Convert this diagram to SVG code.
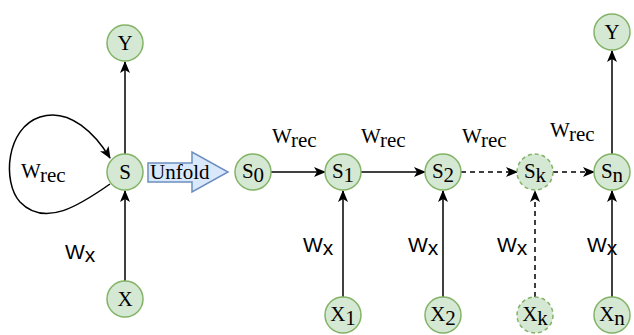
<svg xmlns="http://www.w3.org/2000/svg" width="634" height="335" viewBox="0 0 634 335">
<defs>
<marker id="arr" viewBox="0 0 12 10" markerWidth="12" markerHeight="10" refX="11" refY="5" orient="auto" markerUnits="userSpaceOnUse">
<path d="M0,0 L12,5 L0,10 L3,5 Z" fill="#000"/>
</marker>
</defs>
<style>
.n{fill:#d5e8d4;stroke:#82b366;stroke-width:1.5}
.nd{fill:#d5e8d4;stroke:#82b366;stroke-width:1.5;stroke-dasharray:4 3}
.t{font-family:"Liberation Serif","Times New Roman","DejaVu Serif",serif;font-size:21px;fill:#000;text-anchor:middle}
.l{font-family:"Liberation Serif","Times New Roman","DejaVu Serif",serif;font-size:21px;fill:#000}
.s{font-family:"Liberation Sans",Arial,sans-serif;font-size:21px;fill:#000}
.e{stroke:#000;stroke-width:1.5;fill:none;marker-end:url(#arr)}
.ed{stroke:#000;stroke-width:1.5;fill:none;stroke-dasharray:5 4;marker-end:url(#arr)}
</style>
<g id="connectors">
<path class="e" d="M110 184 C80 205 45 228 20 202 C2 182 6 128 40 117 C70 107 96 135 110 158"/>
<line class="e" x1="125" y1="154" x2="125" y2="62"/>
<line class="e" x1="125" y1="281" x2="125" y2="191"/>
<line class="e" x1="271" y1="172" x2="325" y2="172"/>
<line class="e" x1="361" y1="172" x2="425" y2="172"/>
<line class="ed" x1="461" y1="172" x2="517" y2="172"/>
<line class="ed" x1="553" y1="172" x2="594" y2="172"/>
<line class="e" x1="343" y1="297" x2="343" y2="191"/>
<line class="e" x1="443" y1="297" x2="443" y2="191"/>
<line class="ed" x1="535" y1="297" x2="535" y2="191"/>
<line class="e" x1="612" y1="297" x2="612" y2="191"/>
<line class="e" x1="612" y1="154" x2="612" y2="51"/>
</g>
<g id="labels">
<text class="l" x="21" y="178">W<tspan dy="4">rec</tspan></text>
<text class="s" x="65" y="259">W<tspan dy="3">x</tspan></text>
<text class="l" x="272" y="143">W<tspan dy="4">rec</tspan></text>
<text class="l" x="361" y="143">W<tspan dy="4">rec</tspan></text>
<text class="l" x="462" y="143">W<tspan dy="4">rec</tspan></text>
<text class="l" x="550" y="137">W<tspan dy="4">rec</tspan></text>
<text class="s" x="303" y="252">W<tspan dy="3">x</tspan></text>
<text class="s" x="408" y="252">W<tspan dy="3">x</tspan></text>
<text class="s" x="497" y="252">W<tspan dy="3">x</tspan></text>
<text class="s" x="587" y="252">W<tspan dy="3">x</tspan></text>
</g>
<g id="unfold">
<path d="M148 163 L192 163 L192 152 L228 172 L192 192 L192 182 L148 182 Z" fill="#dae8fc" stroke="#6c8ebf" stroke-width="1.5"/>
<text class="l" x="150" y="179">Unfold</text>
</g>
<g id="Y"><circle class="n" cx="125" cy="43" r="18"/><text class="t" x="125" y="50">Y</text></g>
<g id="S"><circle class="n" cx="125" cy="172" r="18"/><text class="t" x="125" y="179">S</text></g>
<g id="X"><circle class="n" cx="125" cy="299" r="18"/><text class="t" x="125" y="306">X</text></g>
<g id="S0"><circle class="n" cx="253" cy="172" r="18"/><text class="t" x="253" y="178">S<tspan dy="4">0</tspan></text></g>
<g id="S1"><circle class="n" cx="343" cy="172" r="18"/><text class="t" x="343" y="178">S<tspan dy="4">1</tspan></text></g>
<g id="S2"><circle class="n" cx="443" cy="172" r="18"/><text class="t" x="443" y="178">S<tspan dy="4">2</tspan></text></g>
<g id="Sk"><circle class="nd" cx="535" cy="172" r="18"/><text class="t" x="535" y="178">S<tspan dy="4">k</tspan></text></g>
<g id="Sn"><circle class="n" cx="612" cy="172" r="18"/><text class="t" x="612" y="178">S<tspan dy="4">n</tspan></text></g>
<g id="Yn"><circle class="n" cx="612" cy="32" r="18"/><text class="t" x="612" y="39">Y</text></g>
<g id="X1"><circle class="n" cx="343" cy="315" r="18"/><text class="t" x="343" y="321">X<tspan dy="4">1</tspan></text></g>
<g id="X2"><circle class="n" cx="443" cy="315" r="18"/><text class="t" x="443" y="321">X<tspan dy="4">2</tspan></text></g>
<g id="Xk"><circle class="nd" cx="535" cy="315" r="18"/><text class="t" x="535" y="321">X<tspan dy="4">k</tspan></text></g>
<g id="Xn"><circle class="n" cx="612" cy="315" r="18"/><text class="t" x="612" y="321">X<tspan dy="4">n</tspan></text></g>
</svg>
